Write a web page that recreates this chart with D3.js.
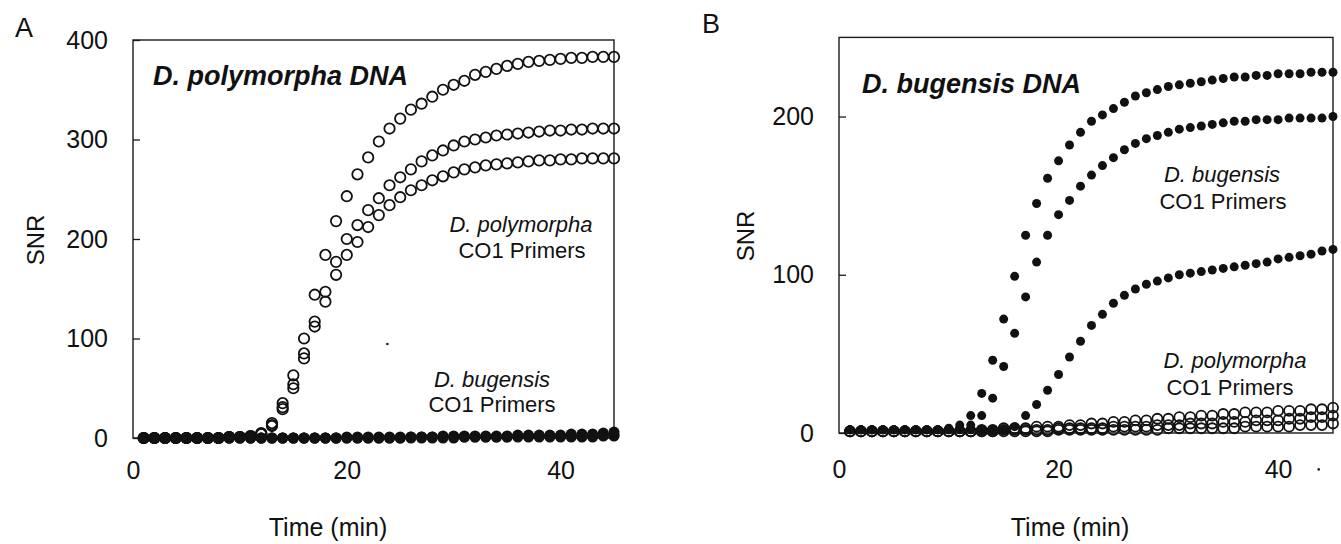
<!DOCTYPE html>
<html><head><meta charset="utf-8">
<script src="https://cdn.jsdelivr.net/npm/d3@7"></script>
<style>body{margin:0;background:#fff}svg{display:block}</style>
</head><body><svg id="c" width="1341" height="544"></svg>
<script>
// ---------- DATA ----------
const times = [1,2,3,4,5,6,7,8,9,10,11,12,13,14,15,16,17,18,19,20,21,22,23,24,25,26,27,28,29,30,31,32,33,34,35,36,37,38,39,40,41,42,43,44,45];

// Panel A: D. polymorpha DNA
const xTicksA = [0, 20, 40];
const yTicksA = [0, 100, 200, 300, 400];
// open circles: D. polymorpha CO1 primers (3 replicates)
const polyA1 = [0,0,0,0,0,0,0,0,1,1,2,5,15,35,63,100,144,184,218,243,265,282,298,311,321,330,336,343,350,355,359,365,368,371,374,376,378,379,380,381,382,382,383,383,383];
const polyA2 = [0,0,0,0,0,0,0,0,1,1,2,4,13,31,54,85,117,147,177,200,214,229,241,254,262,270,278,284,289,294,298,300,302,304,305,306,307,308,309,309,310,310,311,311,311];
const polyA3 = [0,0,0,0,0,0,0,0,1,1,1,4,12,29,50,80,112,137,164,184,197,212,224,234,242,249,254,259,263,267,270,272,274,275,276,277,278,279,279,280,280,281,281,281,281];
// filled dots: D. bugensis CO1 primers (3 replicates)
const bugA1 = [0,0,0,0,0,0,0,0,0,0,0,0,0,0,0,0,0,0,0,1,1,1,1,1,1,1,1,1,2,2,2,2,2,2,2,3,3,3,3,3,4,4,4,5,6];
const bugA2 = [0,0,0,0,0,0,0,0,0,0,0,0,0,0,0,0,0,0,0,0,0,0,0,0,0,1,1,1,1,1,1,1,1,1,1,2,2,2,2,2,2,2,3,3,3];
const bugA3 = [0,0,0,0,0,0,0,0,0,0,0,0,0,0,0,0,0,0,0,0,0,0,0,0,0,0,0,0,0,0,1,1,1,1,1,1,1,1,1,1,1,1,1,2,2];
const strayA = [[23.8, 94.5]];

// Panel B: D. bugensis DNA
const xTicksB = [0, 20, 40];
const yTicksB = [0, 100, 200];
// filled dots: D. bugensis CO1 primers (3 replicates)
const bugB1 = [2,2,2,2,2,2,2,2,2,3,5,11,25,46,72,99,125,145,161,172,182,190,197,201,205,209,213,215,217,219,220,221,222,223,224,225,225,226,226,227,227,227,228,228,228];
const bugB2 = [2,2,2,2,2,2,2,2,2,2,3,5,11,22,42,63,86,108,125,138,147,156,163,169,174,179,183,186,188,190,192,193,194,195,196,197,197,198,198,198,199,199,199,199,200];
const bugB3 = [2,2,2,2,2,2,2,2,2,2,2,2,2,2,2,4,11,18,27,37,48,58,68,75,82,87,91,94,96,98,100,101,102,103,104,105,106,107,108,110,111,112,113,115,116];
// open circles: D. polymorpha CO1 primers (3 replicates)
const polyB1 = [1,1,1,1,1,1,1,1,1,1,1,1,2,2,3,3,3,4,4,4,5,5,6,6,7,7,8,8,9,9,10,10,11,11,12,12,13,13,13,14,14,14,15,15,16];
const polyB2 = [1,1,1,1,1,1,1,1,1,1,1,1,1,1,2,2,2,2,2,3,3,3,3,3,4,4,4,4,5,5,5,6,6,6,7,7,7,8,8,8,9,9,10,10,11];
const polyB3 = [1,1,1,1,1,1,1,1,1,1,1,1,1,1,1,1,1,1,1,2,2,2,2,2,2,2,2,2,2,3,3,3,3,3,3,3,4,4,4,4,4,5,5,5,6];
const strayB = [[43.7, -23]];

// ---------- DRAWING ----------
const FONT = "'Liberation Sans', Arial, Helvetica, sans-serif";
const svg = d3.select('#c').style('font-family', FONT);

function panel(cfg) {
  const g = svg.append('g');
  const x = d3.scaleLinear().domain([0, 45]).range([cfg.left, cfg.right]);
  const y = d3.scaleLinear().domain([0, cfg.ymax]).range([cfg.bottom, cfg.top]);

  // box
  g.append('rect').attr('x', cfg.left).attr('y', cfg.top)
    .attr('width', cfg.right - cfg.left).attr('height', cfg.bottom - cfg.top)
    .attr('fill', 'none').attr('stroke', '#1a1a1a').attr('stroke-width', 1.4);

  // y axis (inner ticks)
  const ya = g.append('g').attr('transform', `translate(${cfg.left},0)`)
    .call(d3.axisLeft(y).tickValues(cfg.yTicks).tickSizeInner(-7).tickSizeOuter(0).tickPadding(cfg.yPad).tickFormat(d3.format('d')));
  ya.select('.domain').remove();
  ya.selectAll('.tick line').attr('stroke', '#1a1a1a').attr('stroke-width', 1.3);
  ya.selectAll('.tick text').attr('font-size', 25).attr('font-family', FONT).attr('fill', '#111');

  // x axis (labels only)
  const xa = g.append('g').attr('transform', `translate(0,${cfg.bottom})`)
    .call(d3.axisBottom(x).tickValues(cfg.xTicks).tickSize(0).tickPadding(cfg.xPad).tickFormat(d3.format('d')));
  xa.select('.domain').remove();
  xa.selectAll('.tick text').attr('font-size', 25).attr('font-family', FONT).attr('fill', '#111');

  // open circle series
  cfg.open.forEach(s => {
    g.append('g').selectAll('circle').data(s).join('circle')
      .attr('cx', (d, i) => x(times[i])).attr('cy', d => y(d))
      .attr('r', cfg.rOpen).attr('fill', 'none').attr('stroke', '#111').attr('stroke-width', 1.8);
  });
  // filled series
  cfg.filled.forEach(s => {
    g.append('g').selectAll('circle').data(s).join('circle')
      .attr('cx', (d, i) => x(times[i])).attr('cy', d => y(d))
      .attr('r', cfg.rFill).attr('fill', '#111');
  });
  // stray specks in the original figure
  g.append('g').selectAll('circle').data(cfg.stray).join('circle')
    .attr('cx', d => x(d[0])).attr('cy', d => y(d[1])).attr('r', 1.3).attr('fill', '#222');

  // panel letter
  g.append('text').attr('x', cfg.letter[0]).attr('y', cfg.letter[1]).attr('text-anchor', 'middle')
    .attr('font-size', 27).attr('fill', '#111').text(cfg.letterText);

  // SNR label
  g.append('text').attr('transform', `translate(${cfg.snr[0]},${cfg.snr[1]}) rotate(-90)`)
    .attr('text-anchor', 'middle').attr('font-size', 24).attr('fill', '#111').text('SNR');

  // Time label
  g.append('text').attr('x', cfg.time[0]).attr('y', cfg.time[1]).attr('text-anchor', 'middle')
    .attr('font-size', 25).attr('fill', '#111').text('Time (min)');

  // title
  g.append('text').attr('x', cfg.title[0]).attr('y', cfg.title[1])
    .attr('font-size', 27).attr('font-weight', 'bold').attr('font-style', 'italic').attr('fill', '#111')
    .text(cfg.titleText);

  // annotations
  cfg.notes.forEach(n => {
    const t = g.append('text').attr('x', n.x).attr('y', n.y).attr('text-anchor', 'middle')
      .attr('font-size', 22).attr('fill', '#111').text(n.text);
    if (n.italic) t.attr('font-style', 'italic');
  });
}

panel({
  left: 133, right: 614, top: 40, bottom: 438, ymax: 400,
  yTicks: yTicksA, xTicks: xTicksA, yPad: 25, xPad: 23,
  open: [polyA1, polyA2, polyA3], filled: [bugA1, bugA2, bugA3], stray: strayA,
  rOpen: 5.2, rFill: 5.5,
  letter: [24, 37], letterText: 'A', snr: [44, 240], time: [328, 536],
  title: [153, 85], titleText: 'D. polymorpha DNA',
  notes: [
    {x: 521, y: 232, text: 'D. polymorpha', italic: true},
    {x: 522, y: 258, text: 'CO1 Primers'},
    {x: 492, y: 387, text: 'D. bugensis', italic: true},
    {x: 492, y: 412, text: 'CO1 Primers'}
  ]
});

panel({
  left: 839, right: 1333, top: 37.4, bottom: 433, ymax: 250,
  yTicks: yTicksB, xTicks: xTicksB, yPad: 25, xPad: 27,
  open: [polyB1, polyB2, polyB3], filled: [bugB1, bugB2, bugB3], stray: strayB,
  rOpen: 5, rFill: 4.5,
  letter: [711, 33], letterText: 'B', snr: [754, 236], time: [1070, 536],
  title: [862, 93], titleText: 'D. bugensis DNA',
  notes: [
    {x: 1222, y: 182, text: 'D. bugensis', italic: true},
    {x: 1223, y: 209, text: 'CO1 Primers'},
    {x: 1235, y: 368, text: 'D. polymorpha', italic: true},
    {x: 1230, y: 395, text: 'CO1 Primers'}
  ]
});
</script>
</body></html>
